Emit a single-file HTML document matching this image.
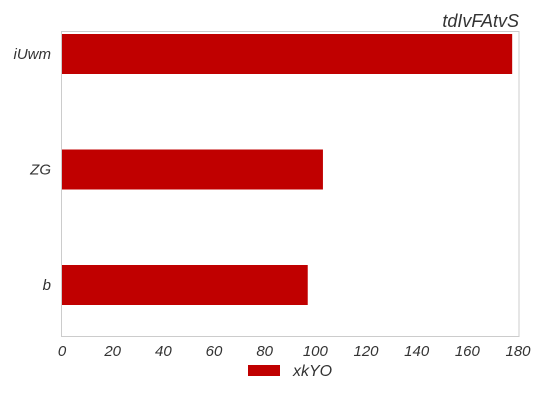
<!DOCTYPE html>
<html><head><meta charset="utf-8"><style>
body{margin:0;background:#fff;}
svg text{font-family:"Liberation Sans",sans-serif;font-style:italic;fill:#333;}
</style></head><body>
<svg id="chart" width="544" height="408">
<text x="519" y="27" font-size="18" text-anchor="end">tdIvFAtvS</text>
<rect x="61.5" y="31.5" width="457.5" height="305" fill="none" stroke="#ccc" stroke-width="1"/>
<g id="bars"></g>
<g id="xticks"></g>
<g id="yticks"></g>
<rect x="248" y="365" width="32" height="11" fill="#c00000"/>
<text x="293" y="376" font-size="16">xkYO</text>
</svg>
<script>
const categories=["b","ZG","iUwm"];
const values=[97,103,177.7];
const xTicks=[0,20,40,60,80,100,120,140,160,180];
const ns="http://www.w3.org/2000/svg";
function xs(v){return 62+v*(456/180);}
function ys(i){return 285-115.5*i;}
const bars=document.getElementById('bars'),xt=document.getElementById('xticks'),yt=document.getElementById('yticks');
categories.forEach((c,i)=>{
  const r=document.createElementNS(ns,'rect');
  r.setAttribute('x',xs(0));r.setAttribute('y',ys(i)-20);
  r.setAttribute('width',xs(values[i])-xs(0));r.setAttribute('height',40);
  r.setAttribute('fill','#c00000');
  
  
  bars.appendChild(r);
  const t=document.createElementNS(ns,'text');
  t.setAttribute('x',51);t.setAttribute('y',ys(i)+5);t.setAttribute('font-size','15');t.setAttribute('text-anchor','end');
  t.textContent=c;
  
  
  yt.appendChild(t);
});
xTicks.forEach(v=>{
  const t=document.createElementNS(ns,'text');
  t.setAttribute('x',xs(v));t.setAttribute('y',356);t.setAttribute('font-size','15');t.setAttribute('text-anchor','middle');
  t.textContent=v;
  
  
  xt.appendChild(t);
});
</script>
</body></html>
